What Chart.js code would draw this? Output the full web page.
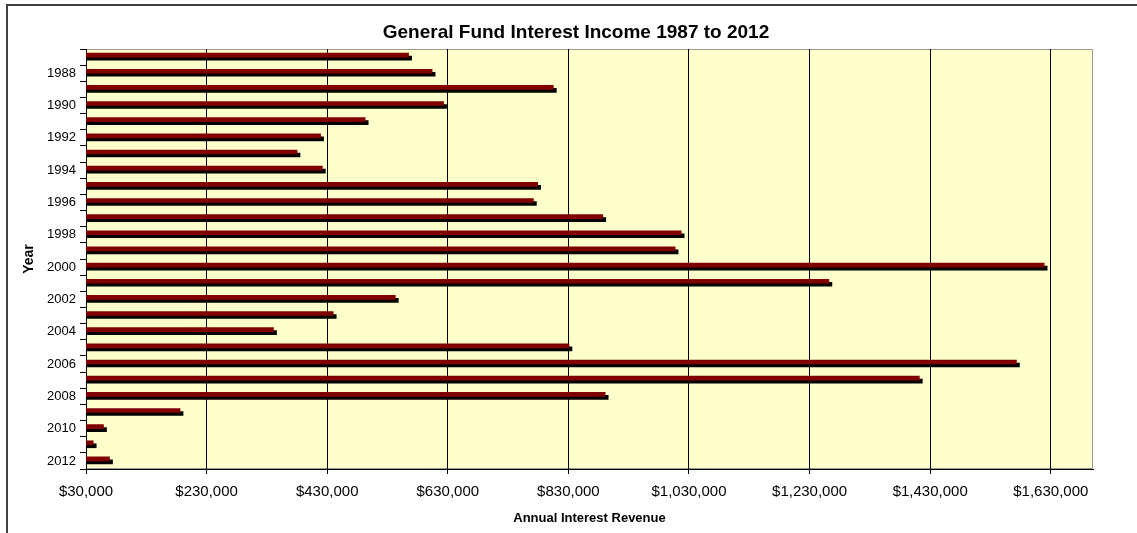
<!DOCTYPE html>
<html>
<head>
<meta charset="utf-8">
<title>General Fund Interest Income 1987 to 2012</title>
<script src="https://cdn.jsdelivr.net/npm/chart.js@4.4.0/dist/chart.umd.min.js"></script>
<style>
  html, body { margin: 0; padding: 0; background: #fff; }
  canvas { display: block; }
</style>
</head>
<body>
<canvas id="interestChart" width="1137" height="533"></canvas>
<script>
// interest income per fiscal year
const years = [1987, 1988, 1989, 1990, 1991, 1992, 1993, 1994, 1995, 1996, 1997, 1998, 1999,
               2000, 2001, 2002, 2003, 2004, 2005, 2006, 2007, 2008, 2009, 2010, 2011, 2012];
const revenue = [565000, 604000, 805000, 623000, 493000, 419000, 380000, 422000, 779000, 772000, 887000, 1017000, 1007000,
                 1619000, 1262000, 543000, 440000, 341000, 831000, 1573000, 1412000, 891000, 186000, 59000, 42000, 69000];
const xTicks = [30000, 230000, 430000, 630000, 830000, 1030000, 1230000, 1430000, 1630000];

const titleText = 'General Fund Interest Income 1987 to 2012';
const fontFamily = "Arial, 'Liberation Sans', sans-serif";

Chart.defaults.font.family = fontFamily;
Chart.defaults.color = '#000';

// frame, plot background, title and the bar drop shadow
const excelLook = {
    id: 'excelLook',
    beforeDraw(chart) {
        const ctx = chart.ctx;
        const a = chart.chartArea;
        ctx.save();
        ctx.fillStyle = '#fff';
        ctx.fillRect(0, 0, chart.width, chart.height);
        ctx.fillStyle = '#FFFFCC';
        ctx.fillRect(a.left, a.top, a.right - a.left, a.bottom - a.top);
        ctx.strokeStyle = '#9a9a9a';
        ctx.lineWidth = 1;
        ctx.strokeRect(a.left + 0.5, a.top + 0.5, a.right - a.left - 1, a.bottom - a.top - 1);
        ctx.fillStyle = '#404040';
        ctx.fillRect(6, 4, chart.width - 6, 2);
        ctx.fillRect(6, 4, 2, chart.height - 4);
        ctx.fillStyle = '#000';
        ctx.font = 'bold 19px ' + fontFamily;
        ctx.textAlign = 'center';
        ctx.textBaseline = 'middle';
        ctx.fillText(titleText, 576, 33);
        ctx.restore();
    },
    beforeDatasetsDraw(chart) {
        const ctx = chart.ctx;
        ctx.save();
        ctx.translate(0, -2);
        ctx.shadowColor = '#000';
        ctx.shadowOffsetX = 3;
        ctx.shadowOffsetY = 3;
        ctx.shadowBlur = 0;
    },
    afterDatasetsDraw(chart) {
        chart.ctx.restore();
    }
};

var ctx = document.getElementById('interestChart').getContext('2d');
var interestChart = new Chart(ctx, {
    type: 'bar',
    data: {
        labels: years,
        datasets: [{
            label: 'Annual Interest Revenue',
            data: revenue,
            backgroundColor: '#800000',
            borderWidth: 0,
            barThickness: 4
        }]
    },
    options: {
        indexAxis: 'y',
        responsive: false,
        animation: false,
        layout: { padding: { top: 49, right: 44, left: 0, bottom: 0 } },
        plugins: {
            legend: { display: false },
            tooltip: { enabled: false }
        },
        scales: {
            x: {
                type: 'linear',
                min: 30000,
                max: 1700000,
                afterBuildTicks(scale) {
                    scale.ticks = xTicks.map(v => ({ value: v }));
                },
                grid: { color: '#000', lineWidth: 1, tickLength: 5 },
                border: { color: '#000' },
                ticks: {
                    font: { size: 15 },
                    padding: 9,
                    maxRotation: 0,
                    callback: v => '$' + v.toLocaleString('en-US')
                },
                title: {
                    display: true,
                    text: 'Annual Interest Revenue',
                    font: { size: 13, weight: 'bold' },
                    padding: { top: 0, bottom: 7 }
                },
                afterFit(scale) { scale.height = 64; }
            },
            y: {
                type: 'category',
                offset: true,
                grid: { offset: true, drawOnChartArea: false, tickLength: 6, color: '#000' },
                border: { color: '#000' },
                ticks: {
                    autoSkip: false,
                    padding: 4,
                    font: { size: 13 },
                    callback: (v, i) => (years[i] % 2 === 0 ? String(years[i]) : '')
                },
                title: {
                    display: true,
                    text: 'Year',
                    font: { size: 14, weight: 'bold' },
                    padding: { top: 21, bottom: 0 }
                },
                afterFit(scale) { scale.width = 86; }
            }
        }
    },
    plugins: [excelLook]
});
</script>
</body>
</html>
